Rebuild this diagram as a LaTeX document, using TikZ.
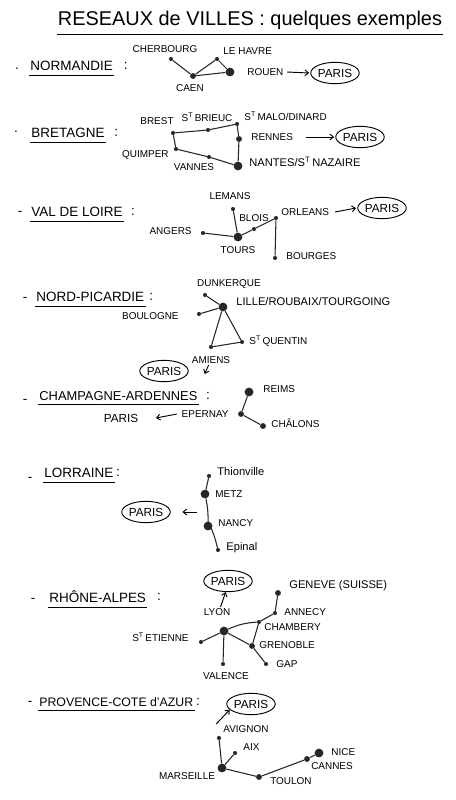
\documentclass[tikz,border=0pt]{standalone}
\usepackage{fontspec}
\setmainfont{Liberation Sans}
\usetikzlibrary{arrows.meta, shapes.geometric, positioning}
\newcommand{\saint}{S\textsuperscript{T}\,}

\begin{document}
\begin{tikzpicture}[x=0.03cm, y=-0.03cm,
      town/.style    = {circle, fill=black!85, inner sep=0pt, minimum size=3.5pt},
      midtown/.style = {town, minimum size=5pt},
      bigtown/.style = {town, minimum size=7.5pt},
      road/.style    = {line width=0.9pt, black!85},
      lbl/.style     = {font=\fontsize{8.5}{9}\selectfont, inner sep=1pt},
      wide/.style    = {font=\fontsize{9.5}{10}\selectfont},
      hdr/.style     = {font=\fontsize{11.5}{12}\selectfont, inner sep=1pt, anchor=west},
      bull/.style    = {hdr, anchor=center},
      uline/.style   = {line width=0.7pt},
      paris/.style   = {draw, ellipse, line width=0.8pt, inner sep=0pt,
                        minimum width=1.42cm, minimum height=0.64cm,
                        font=\fontsize{10}{11}\selectfont},
      arr/.style     = {-{Straight Barb[length=3pt, width=5pt]}, line width=0.8pt}
    ]
    \fill[white] (0,0) rectangle (456,800);

    % title
    \node[font=\fontsize{17}{18}\selectfont, inner sep=1pt] (title) at (250,20)
         {RESEAUX de VILLES : quelques exemples};
    \draw[uline] ([yshift=-3pt]title.south west) -- ([yshift=-3pt]title.south east);

    % headings
    \node[bull] (dnor) at (17,69)  {.};
    \node[hdr]  (hnor) at (29,66)  {NORMANDIE};
    \node[bull, right=7pt of hnor] (cnor) {:};
    \node[bull] (dbre) at (16,132) {.};
    \node[hdr]  (hbre) at (30,133) {BRETAGNE};
    \node[bull, right=6pt of hbre] (cbre) {:};
    \node[bull] (dval) at (20,213) {-};
    \node[hdr]  (hval) at (30,212) {VAL DE LOIRE};
    \node[bull, right=5pt of hval] (cval) {:};
    \node[bull] (dnpi) at (25,299) {-};
    \node[hdr]  (hnpi) at (35,297) {NORD-PICARDIE};
    \node[bull, right=2pt of hnpi] (cnpi) {:};
    \node[bull] (dcha) at (25,401) {-};
    \node[hdr, font=\fontsize{11}{12}\selectfont] (hcha) at (38,396) {CHAMPAGNE-ARDENNES};
    \node[bull, right=5pt of hcha] (ccha) {:};
    \node[bull] (dlor) at (30,479) {-};
    \node[hdr]  (hlor) at (43,473) {LORRAINE};
    \node[bull, right=0pt of hlor] (clor) {:};
    \node[bull] (drho) at (33,600) {-};
    \node[hdr]  (hrho) at (48,597) {RHÔNE-ALPES};
    \node[bull, right=7pt of hrho] (crho) {:};
    \node[bull] (dpro) at (30,703) {-};
    \node[hdr, font=\fontsize{10.5}{12}\selectfont] (hpro) at (38,702) {PROVENCE-COTE d'AZUR};
    \node[bull, right=0pt of hpro] (cpro) {:};
    \foreach \h in {hnor,hbre,hval,hnpi,hcha,hlor,hrho,hpro}
      \draw[uline] ([yshift=-2.5pt]\h.south west) -- ([yshift=-2.5pt]\h.south east);

    % Normandie
    \node[town]    (cherb)  at (171,59) {};
    \node[midtown] (caen)   at (193,76) {};
    \node[town]    (havre)  at (217,59) {};
    \node[bigtown] (rouen)  at (230,72) {};
    \draw[road] (cherb) -- (caen) -- (havre) -- (rouen) -- (caen);
    \node[lbl]             (lcherb) at (165,49) {CHERBOURG};
    \node[lbl]             (lcaen)  at (190,88) {CAEN};
    \node[lbl, anchor=west](lhavre) at (222,51) {LE HAVRE};
    \node[lbl, anchor=west](lrouen) at (246,72) {ROUEN};
    \node[paris]           (paris1) at (335,73) {PARIS};
    \draw[arr] ([xshift=2pt]lrouen.east) -- ([xshift=-1pt]paris1.west);

    % Bretagne
    \node[town]    (brest)   at (173,133) {};
    \node[town]    (brieuc)  at (208,130) {};
    \node[town]    (malo)    at (237,124) {};
    \node[midtown] (rennes)  at (239,139) {};
    \node[bigtown] (nantes)  at (238,166) {};
    \node[town]    (vannes)  at (209,157) {};
    \node[town]    (quimper) at (176,149) {};
    \draw[road] (brest) -- (brieuc) -- (malo) -- (rennes) -- (nantes)
                -- (vannes) -- (quimper) -- (brest);
    \node[lbl]              (lbrest)   at (157,121) {BREST};
    \node[lbl]              (lbrieuc)  at (207,117) {\saint BRIEUC};
    \node[lbl, anchor=west] (lmalo)    at (243,116) {\saint MALO/DINARD};
    \node[lbl, anchor=west] (lrennes)  at (250,137) {RENNES};
    \node[lbl, wide, anchor=west] (lnantes) at (248,162) {NANTES/\saint NAZAIRE};
    \node[lbl]              (lvannes)  at (194,167) {VANNES};
    \node[lbl, anchor=east] (lquimper) at (170,155) {QUIMPER};
    \node[paris]            (paris2)   at (360,137) {PARIS};
    \draw[arr] ([xshift=10pt]lrennes.east) -- ([xshift=-1pt]paris2.west);

    % Val de Loire
    \node[town]    (lemans)  at (233,209) {};
    \node[bigtown] (tours)   at (238,237) {};
    \node[town]    (angers)  at (203,233) {};
    \node[town]    (blois)   at (254,229) {};
    \node[town]    (orleans) at (276,218) {};
    \node[town]    (bourges) at (275,258) {};
    \draw[road] (lemans) -- (tours) -- (blois) -- (orleans) -- (bourges);
    \draw[road] (angers) -- (tours);
    \node[lbl]              (llemans)  at (230,196) {LEMANS};
    \node[lbl]              (ltours)   at (238,250) {TOURS};
    \node[lbl, anchor=east] (langers)  at (193,231) {ANGERS};
    \node[lbl]              (lblois)   at (254,218) {BLOIS};
    \node[lbl, anchor=west] (lorleans) at (280,212) {ORLEANS};
    \node[lbl, anchor=west] (lbourges) at (285,256) {BOURGES};
    \node[paris]            (paris3)   at (382,208) {PARIS};
    \draw[arr] ([xshift=4pt]lorleans.east) -- ([xshift=-1pt]paris3.west);

    % Nord-Picardie
    \node[town]    (dunk)   at (205,295) {};
    \node[bigtown] (lille)  at (223,307) {};
    \node[town]    (boul)   at (199,314) {};
    \node[town]    (stq)    at (242,342) {};
    \node[town]    (amiens) at (211,347) {};
    \draw[road] (dunk) -- (lille) -- (boul);
    \draw[road] (lille) -- (amiens) -- (stq) -- (lille);
    \node[lbl]              (ldunk)   at (229,284) {DUNKERQUE};
    \node[lbl, wide, anchor=west] (llille) at (235,302) {LILLE/ROUBAIX/TOURGOING};
    \node[lbl, anchor=east] (lboul)   at (180,316) {BOULOGNE};
    \node[lbl, anchor=west] (lstq)    at (248,341) {\saint QUENTIN};
    \node[lbl]              (lamiens) at (211,360) {AMIENS};
    \node[paris]            (paris4)  at (164,371) {PARIS};
    \draw[arr] ([xshift=-2pt]lamiens.south) -- ++(-4,9);

    % Champagne-Ardennes
    \node[bigtown] (reims)   at (249,392) {};
    \node[midtown] (epernay) at (241,414) {};
    \node[midtown] (chalons) at (263,426) {};
    \draw[road] (reims) -- (epernay) -- (chalons);
    \node[lbl, anchor=west] (lreims)   at (262,389) {REIMS};
    \node[lbl, anchor=east] (lepernay) at (230,414) {EPERNAY};
    \node[lbl, anchor=west] (lchalons) at (270,423) {CHÂLONS};
    \node[font=\fontsize{10}{11}\selectfont, inner sep=1pt] (parisc) at (121,418) {PARIS};
    \draw[arr] ([xshift=-3pt]lepernay.west) -- ([xshift=14pt]parisc.east);

    % Lorraine
    \node[town]    (thion)  at (209,476) {};
    \node[bigtown] (metz)   at (205,494) {};
    \node[bigtown] (nancy)  at (208,526) {};
    \node[town]    (epinal) at (218,550) {};
    \draw[road] (thion) -- (metz) to[bend left=6] (nancy) to[bend left=6] (epinal);
    \node[lbl, wide, anchor=west] (lthion)  at (216,472) {Thionville};
    \node[lbl, anchor=west]       (lmetz)   at (214,494) {METZ};
    \node[lbl, anchor=west]       (lnancy)  at (217,523) {NANCY};
    \node[lbl, wide, anchor=west] (lepinal) at (225,548) {Epinal};
    \node[paris]            (paris5)  at (146,512) {PARIS};
    \coordinate (lorarr) at (197,512);
    \draw[arr, shorten >=10pt] (lorarr) -- (paris5.east);

    % Rhone-Alpes
    \node[bigtown] (lyon)     at (224,631) {};
    \node[midtown] (geneve)   at (278,593) {};
    \node[town]    (annecy)   at (275,613) {};
    \node[town]    (chambery) at (259,622) {};
    \node[midtown] (grenoble) at (252,646) {};
    \node[town]    (gap)      at (266,664) {};
    \node[town]    (etienne)  at (201,642) {};
    \node[town]    (valence)  at (223,664) {};
    \draw[road] (geneve) -- (annecy) -- (chambery) to[bend right=10] (lyon);
    \draw[road] (chambery) -- (grenoble) -- (lyon);
    \draw[road] (grenoble) -- (gap);
    \draw[road] (etienne) -- (lyon) -- (valence);
    \node[lbl]              (llyon)     at (217,612) {LYON};
    \node[lbl, wide, anchor=west] (lgeneve) at (288,586) {GENEVE (SUISSE)};
    \node[lbl, anchor=west] (lannecy)   at (283,612) {ANNECY};
    \node[lbl, anchor=west] (lchambery) at (263,627) {CHAMBERY};
    \node[lbl, anchor=west] (lgrenoble) at (258,645) {GRENOBLE};
    \node[lbl, anchor=west] (lgap)      at (275,664) {GAP};
    \node[lbl, anchor=east] (letienne)  at (190,637) {\saint ETIENNE};
    \node[lbl]              (lvalence)  at (226,676) {VALENCE};
    \node[paris]            (paris6)    at (228,581) {PARIS};
    \draw[arr] ([xshift=3pt]llyon.north) -- ([xshift=-2pt]paris6.south);

    % Provence-Cote d'Azur
    \node[town]    (avignon)   at (219,738) {};
    \node[town]    (aix)       at (235,753) {};
    \node[bigtown] (marseille) at (222,768) {};
    \node[midtown] (toulon)    at (259,777) {};
    \node[midtown] (cannes)    at (307,759) {};
    \node[bigtown] (nice)      at (319,753) {};
    \draw[road] (avignon) -- (marseille) -- (aix);
    \draw[road] (marseille) -- (toulon) -- (cannes) -- (nice);
    \node[lbl]              (lavignon)   at (246,729) {AVIGNON};
    \node[lbl, anchor=west] (laix)       at (242,747) {AIX};
    \node[lbl]              (lmarseille) at (187,776) {MARSEILLE};
    \node[lbl]              (ltoulon)    at (291,781) {TOULON};
    \node[lbl]              (lcannes)    at (332,766) {CANNES};
    \node[lbl, anchor=west] (lnice)      at (330,752) {NICE};
    \node[paris]            (paris7)     at (251,704) {PARIS};
    \draw[arr] ([xshift=-5pt]lavignon.north west) -- (paris7.195);
  \end{tikzpicture}
\end{document}
